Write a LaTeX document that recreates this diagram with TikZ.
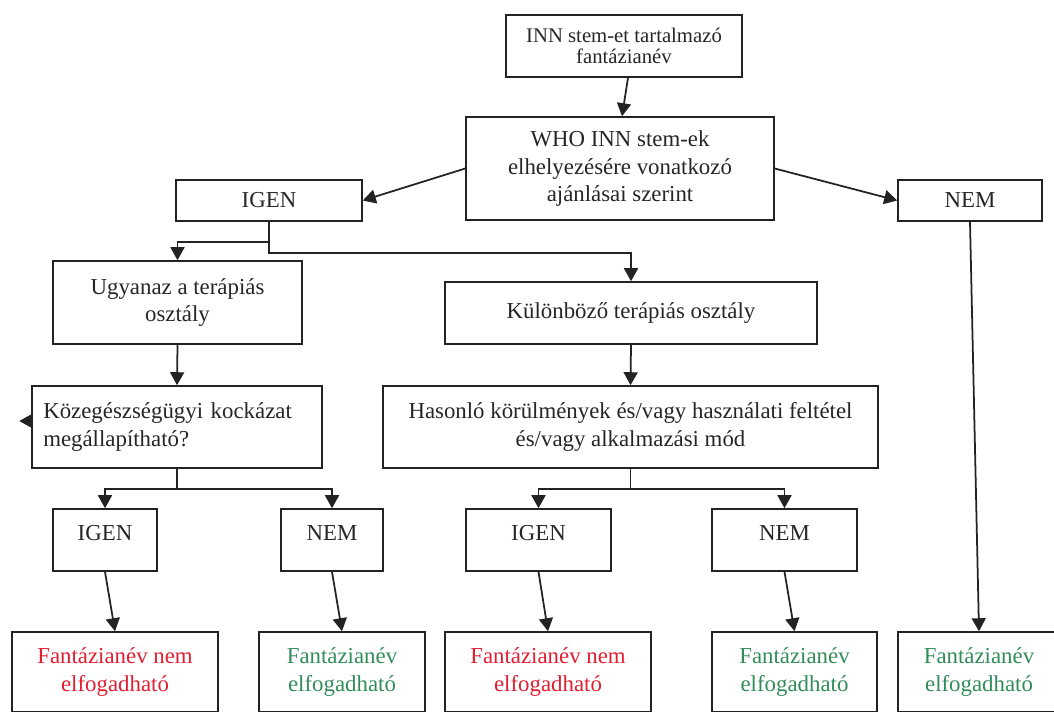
\documentclass[tikz,border=0pt]{standalone}
\usepackage{fontspec}
\setmainfont{Liberation Serif}
\usetikzlibrary{arrows.meta, positioning}
\definecolor{linecolor}{RGB}{35, 35, 35}
\definecolor{nogored}{RGB}{225, 30, 50}
\definecolor{okgreen}{RGB}{50, 140, 90}
\newcommand{\fnormal}{\fontsize{13}{15.8}\selectfont}
\newcommand{\fsmall}{\fontsize{11.8}{11.8}\selectfont}
\tikzset{
  box/.style={rectangle, draw=linecolor, line width=0.9pt, align=center, inner sep=2pt, text=black!85, font=\fnormal},
  answer/.style={box, minimum height=0.82cm},
  choice/.style={box, minimum height=1.24cm, text height=9pt, text depth=8pt},
  verdict/.style={box, minimum height=1.60cm},
  nogo/.style={verdict, text=nogored},
  okay/.style={verdict, text=okgreen},
  arr/.style={-{Triangle[length=0.26cm, width=0.28cm]}, line width=1pt, color=linecolor}
}

\begin{document}
\begin{tikzpicture}[x=0.02cm, y=-0.02cm]

  \useasboundingbox (0,0) rectangle (1054,711);

  \node[box, font=\fsmall, minimum width=4.72cm, minimum height=1.24cm] (inn) at (624,46) {INN stem-et tartalmazó\\fantázianév};
  \node[box, minimum width=6.16cm, minimum height=2.06cm] (who) at (620,168.5) {WHO INN stem-ek\\elhelyezésére vonatkozó\\ajánlásai szerint};

  \node[answer, minimum width=3.72cm] (igen) at (269,200.5) {IGEN};
  \node[answer, minimum width=2.88cm] (nem)  at (970,200.5) {NEM};

  \node[box, minimum width=4.98cm, minimum height=1.66cm] (same) at (177.5,302.5) {Ugyanaz a terápiás\\osztály};
  \node[box, minimum width=7.44cm, minimum height=1.24cm] (diff) at (631,313) {Különböző terápiás osztály};

  \node[box, align=left, text width=5.35cm, minimum width=5.80cm, minimum height=1.64cm] (risk) at (177,427) {Közegészségügyi kockázat\\megállapítható?};
  \node[box, minimum width=9.90cm, minimum height=1.64cm] (similar) at (630.5,427) {Hasonló körülmények és/vagy használati feltétel\\és/vagy alkalmazási mód};

  \node[choice, minimum width=2.08cm] (riskyes) at (105,540)   {IGEN};
  \node[choice, minimum width=2.04cm] (riskno)  at (332,540)   {NEM};
  \node[choice, minimum width=2.90cm] (simyes)  at (538.5,540) {IGEN};
  \node[choice, minimum width=2.90cm] (simno)   at (784.5,540) {NEM};

  \node[nogo, minimum width=4.12cm] (res1) at (115,672)   {Fantázianév nem\\elfogadható};
  \node[okay, minimum width=3.32cm] (res2) at (342,672)   {Fantázianév\\elfogadható};
  \node[nogo, minimum width=4.12cm] (res3) at (548,672)   {Fantázianév nem\\elfogadható};
  \node[okay, minimum width=3.30cm] (res4) at (794.5,672) {Fantázianév\\elfogadható};
  \node[okay, minimum width=3.24cm] (res5) at (979,672)   {Fantázianév\\elfogadható};

  \draw[arr] ([xshift=0.08cm]inn.south) -- ([xshift=0.04cm]who.north);
  \draw[arr] (who.west) -- (igen.east);
  \draw[arr] (who.east) -- (nem.west);

  \draw[arr] (igen.south) -- ++(0,20) -| (same.north);
  \draw[arr] (igen.south) -- ++(0,31) -| (diff.north);
  \draw[arr] (same.south) -- (risk.north);
  \draw[arr] (diff.south) -- (similar.north);
  \draw[arr] ([yshift=0.12cm]risk.west) -- ++(-12,0);

  \draw[arr] (risk.south) -- ++(0,20) -| (riskyes.north);
  \draw[arr] (risk.south) -- ++(0,20) -| (riskno.north);
  \draw[arr] (similar.south) -- ++(0,20) -| (simyes.north);
  \draw[arr] (similar.south) -- ++(0,20) -| (simno.north);

  \draw[arr] (riskyes.south) -- (res1.north);
  \draw[arr] (riskno.south)  -- (res2.north);
  \draw[arr] (simyes.south)  -- (res3.north);
  \draw[arr] (simno.south)   -- (res4.north);
  \draw[arr] (nem.south)     -- (res5.north);

\end{tikzpicture}
\end{document}
